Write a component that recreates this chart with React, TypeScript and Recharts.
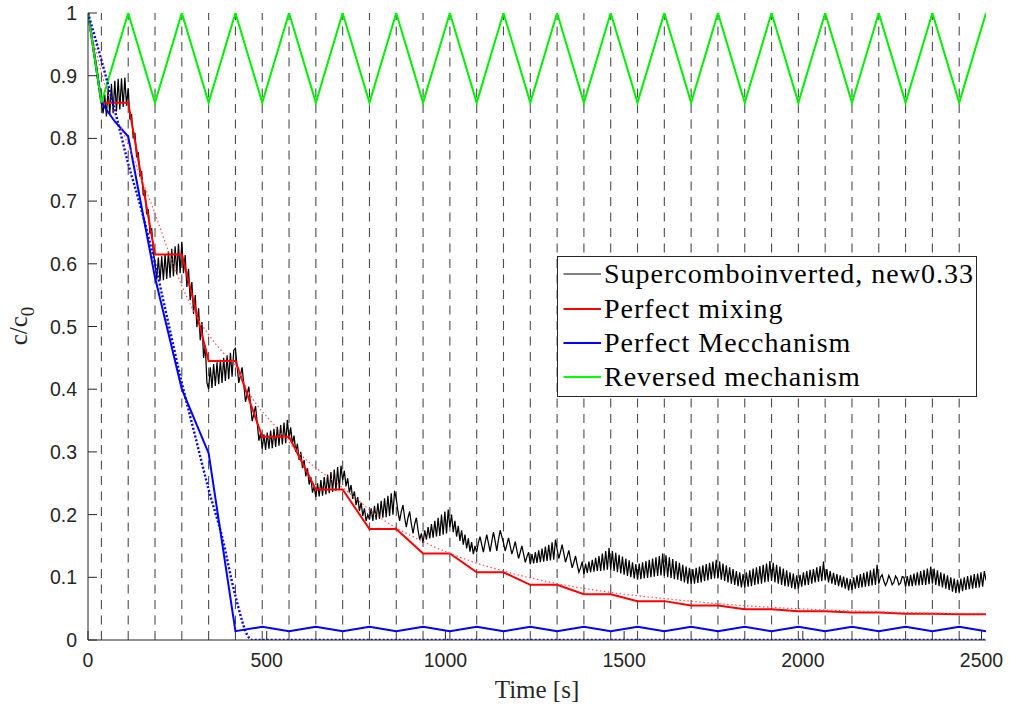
import React from 'react';
import { LineChart, Line, XAxis, YAxis, ReferenceLine, Legend } from 'recharts';

// Valve switching times (dashed vertical lines), seconds
const switchTimes = [37.5, 112.5, 187.5, 262.5, 337.5, 412.5, 487.5, 562.5, 637.5, 712.5, 787.5, 862.5, 937.5, 1012.5, 1087.5, 1162.5, 1237.5, 1312.5, 1387.5, 1462.5, 1537.5, 1612.5, 1687.5, 1762.5, 1837.5, 1912.5, 1987.5, 2062.5, 2137.5, 2212.5, 2287.5, 2362.5, 2437.5];

// Corner times of the piecewise-linear series
const cycleTimes = [0, 37.5, 112.5, 187.5, 262.5, 337.5, 412.5, 487.5, 562.5, 637.5, 712.5, 787.5, 862.5, 937.5, 1012.5, 1087.5, 1162.5, 1237.5, 1312.5, 1387.5, 1462.5, 1537.5, 1612.5, 1687.5, 1762.5, 1837.5, 1912.5, 1987.5, 2062.5, 2137.5, 2212.5, 2287.5, 2362.5, 2437.5, 2512.5];

// Reversed mechanism (green)
const greenValues = [1, .857, 1, .857, 1, .857, 1, .857, 1, .857, 1, .857, 1, .857, 1, .857, 1, .857, 1, .857, 1, .857, 1, .857, 1, .857, 1, .857, 1, .857, 1, .857, 1, .857, 1];

// Perfect mixing (red, solid)
const redValues = [1, .857, .857, .615, .615, .445, .445, .324, .324, .24, .24, .177, .177, .138, .138, .108, .108, .088, .088, .073, .073, .062, .062, .055, .055, .049, .049, .046, .046, .044, .044, .042, .042, .041, .041];

// Perfect mixing, smooth reference (red, dotted)
const redIdealTimes = [0, 37.5, 75, 112.5, 150, 187.5, 225, 262.5, 300, 337.5, 375, 412.5, 450, 525, 600, 712.5, 825, 937.5, 1050, 1162.5, 1312.5, 1462.5, 1612.5, 1762.5, 1912.5, 2062.5, 2212.5, 2362.5, 2512.5];
const redIdealValues = [1, .905, .84, .79, .735, .68, .62, .565, .52, .487, .46, .438, .395, .34, .293, .243, .192, .157, .13, .11, .09, .076, .066, .058, .052, .048, .045, .043, .042];

// Perfect Mecchanism (blue, solid)
const blueTimes = [0, 37.5, 75, 112.5, 187.5, 262.5, 337.5, 412.5, 487.5, 562.5, 637.5, 712.5, 787.5, 862.5, 937.5, 1012.5, 1087.5, 1162.5, 1237.5, 1312.5, 1387.5, 1462.5, 1537.5, 1612.5, 1687.5, 1762.5, 1837.5, 1912.5, 1987.5, 2062.5, 2137.5, 2212.5, 2287.5, 2362.5, 2437.5, 2512.5];
const blueValues = [1, .857, .827, .803, .578, .4, .298, .014, .021, .014, .021, .014, .021, .014, .021, .014, .021, .014, .021, .014, .021, .014, .021, .014, .021, .014, .021, .014, .021, .014, .021, .014, .021, .014, .021, .014];

// Perfect mechanism, smooth reference (blue, dotted)
const blueIdealTimes = [0, 37.5, 75, 112.5, 150, 187.5, 225, 262.5, 300, 337.5, 375, 412.5, 450, 460, 2512.5];
const blueIdealValues = [1, .925, .845, .76, .685, .6, .505, .41, .325, .24, .165, .07, .004, 0, 0];

// Supercomboinverted, new0.33 (black), sampled every blackStep seconds
const blackStep = 4.6875;
const blackValues = [
  1, .985, .968, .952, .935, .918, .9, .88, .857,
  .84, .87, .835, .88, .838, .887, .84, .892, .843, .895, .846, .896, .85, .897, .852,
  .88, .83, .839, .8, .809, .77, .778, .739, .748, .709, .718, .679, .687, .648, .657, .618,
  .6, .575, .61, .573, .612, .574, .615, .576, .62, .578, .624, .58, .628, .583, .632, .585,
  .635, .585, .614, .563, .592, .542, .571, .52, .55, .499, .529, .478, .507, .45, .47, .41,
  .4, .435, .402, .44, .405, .443, .408, .447, .41, .45, .413, .454, .416, .458, .42, .462,
  .465, .437, .41, .422, .435, .407, .38, .392, .404, .376, .349, .361, .373, .346, .318, .33,
  .305, .328, .303, .331, .305, .334, .306, .337, .308, .34, .31, .343, .312, .347, .314, .351,
  .32, .339, .313, .326, .3, .313, .287, .3, .274, .287, .261, .274, .248, .26, .235, .245,
  .228, .25, .229, .255, .23, .26, .232, .264, .234, .268, .236, .272, .238, .276, .24, .278,
  .255, .27, .245, .258, .235, .247, .225, .237, .215, .228, .206, .219, .198, .21, .19, .2,
  .192, .21, .19, .214, .192, .218, .193, .222, .195, .226, .196, .23, .198, .234, .2, .238,
  .225, .205, .19, .205, .215, .195, .18, .195, .205, .185, .17, .185, .195, .175, .16, .17,
  .155, .175, .16, .18, .162, .185, .163, .19, .165, .195, .166, .2, .168, .205, .17, .208,
  .18, .2, .172, .19, .165, .182, .158, .175, .152, .168, .146, .162, .141, .156, .137, .15,
  .14, .155, .165, .152, .14, .155, .168, .155, .141, .157, .172, .158, .142, .16, .175, .165,
  .155, .142, .152, .163, .15, .137, .146, .157, .143, .13, .14, .15, .137, .124, .133, .14,
  .121, .137, .122, .14, .123, .143, .124, .146, .125, .149, .126, .152, .127, .156, .128, .16,
  .145, .13, .14, .152, .138, .124, .133, .143, .128, .115, .124, .134, .12, .108, .115, .125,
  .105, .122, .107, .125, .108, .128, .109, .131, .11, .134, .11, .138, .111, .142, .112, .147,
  .112, .142, .11, .139, .108, .136, .106, .133, .104, .13, .102, .127, .1, .124, .098, .121,
  .096, .122, .097, .124, .098, .126, .099, .128, .1, .13, .101, .132, .102, .134, .103, .138,
  .102, .135, .1, .132, .099, .129, .097, .126, .096, .123, .094, .12, .092, .117, .09, .115,
  .089, .113, .09, .115, .091, .117, .092, .119, .094, .121, .095, .123, .097, .125, .098, .128,
  .098, .125, .096, .122, .094, .119, .092, .116, .09, .113, .088, .11, .086, .108, .084, .105,
  .084, .108, .085, .111, .086, .114, .088, .116, .089, .118, .09, .12, .092, .122, .093, .126,
  .094, .123, .092, .12, .09, .117, .088, .114, .086, .111, .085, .108, .083, .106, .081, .103,
  .082, .104, .085, .108, .087, .11, .088, .112, .09, .113, .092, .116, .093, .118, .094, .125,
  .095, .113, .092, .11, .09, .107, .088, .105, .086, .103, .084, .101, .082, .099, .079, .097,
  .08, .1, .082, .103, .083, .105, .084, .107, .085, .109, .086, .111, .087, .114, .088, .12,
  .09, .1, .104, .094, .087, .093, .103, .097, .088, .092, .102, .098, .088, .091, .101, .1,
  .085, .102, .086, .104, .086, .106, .087, .108, .087, .11, .088, .112, .088, .114, .089, .117,
  .09, .114, .088, .111, .086, .108, .084, .106, .082, .103, .08, .1, .077, .098, .075, .096,
  .076, .098, .078, .1, .08, .102, .081, .103, .082, .105, .083, .106, .084, .108, .085, .11, .095,
];

const xTicks = [0, 500, 1000, 1500, 2000, 2500];
const yTicks = [0, 0.1, 0.2, 0.3, 0.4, 0.5, 0.6, 0.7, 0.8, 0.9, 1];
const xDomain = [0, 2512.5];

const legendNames = ['Supercomboinverted, new0.33', 'Perfect mixing', 'Perfect Mecchanism', 'Reversed mechanism'];
const legendColors = ['#000000', '#ff0000', '#0000ff', '#00ff00'];

const toPoints = (ts: number[], vs: number[]) => ts.map((t, i) => ({ t, v: vs[i] }));
const greenData = toPoints(cycleTimes, greenValues);
const redData = toPoints(cycleTimes, redValues);
const redIdealData = toPoints(redIdealTimes, redIdealValues);
const blueData = toPoints(blueTimes, blueValues);
const blueIdealData = toPoints(blueIdealTimes, blueIdealValues);
const blackData = blackValues.map((v, i) => ({ t: i * blackStep, v }));

const AXIS = '#262626';
const TICK_LEN = 9;
const tickFont = { fontFamily: '"Liberation Sans", Arial, sans-serif', fontSize: 19.5, fill: AXIS };
const serif = '"Liberation Serif", "Times New Roman", serif';

const BottomTick = (props: any) => {
  const { x, y, payload } = props;
  const axisY = y - 13;
  return (
    <g>
      <line x1={x} x2={x} y1={axisY} y2={axisY - TICK_LEN} stroke={AXIS} strokeWidth={1} />
      <text x={x} y={y} dy="0.72em" textAnchor="middle" {...tickFont}>{payload.value}</text>
    </g>
  );
};

const LeftTick = (props: any) => {
  const { x, y, payload } = props;
  const axisX = x + 11;
  return (
    <g>
      <line x1={axisX} x2={axisX + TICK_LEN} y1={y} y2={y} stroke={AXIS} strokeWidth={1} />
      <text x={x} y={y} dy="0.36em" textAnchor="end" {...tickFont}>{String(payload.value)}</text>
    </g>
  );
};

const TopTick = (props: any) => {
  const { x, y } = props;
  return <line x1={x} x2={x} y1={y} y2={y + TICK_LEN} stroke={AXIS} strokeWidth={1} />;
};

const RightTick = (props: any) => {
  const { x, y } = props;
  return <line x1={x} x2={x - TICK_LEN} y1={y} y2={y} stroke={AXIS} strokeWidth={1} />;
};

const XLabel = (props: any) => {
  const vb = props.viewBox;
  return (
    <text x={vb.x + vb.width / 2} y={698} textAnchor="middle" fontFamily={serif} fontSize={25} fill={AXIS}>
      Time [s]
    </text>
  );
};

const YLabel = () => (
  <text x={27} y={326} transform="rotate(-90, 27, 326)" textAnchor="middle" fontFamily={serif} fontSize={25} fill={AXIS}>
    c/c<tspan fontSize={19} dy={7}>0</tspan>
  </text>
);

const renderLegend = () => (
  <div
    style={{
      width: 420,
      height: 141,
      boxSizing: 'border-box',
      border: `1px solid ${AXIS}`,
      background: '#ffffff',
      paddingTop: 0,
      fontFamily: serif,
      fontSize: 28,
      letterSpacing: '1px',
      color: '#000',
    }}
  >
    {legendNames.map((name, i) => (
      <div key={name} style={{ display: 'flex', alignItems: 'center', height: 34.4, whiteSpace: 'nowrap' }}>
        <svg width={46} height={6} style={{ display: 'block', flex: 'none' }}>
          <line x1={5.5} x2={43} y1={3} y2={3} stroke={legendColors[i]} strokeWidth={i === 0 ? 1.2 : 2} />
        </svg>
        <span style={{ lineHeight: '34px' }}>{name}</span>
      </div>
    ))}
  </div>
);

export default function App() {
  return (
    <div style={{ position: 'absolute', left: 0, top: 0, width: 1009, height: 713, background: '#fff' }}>
      <LineChart width={1009} height={713} margin={{ top: 13, right: 23, bottom: 33, left: 28 }}>
        <XAxis
          xAxisId={0}
          dataKey="t"
          type="number"
          domain={xDomain}
          ticks={xTicks}
          allowDataOverflow
          height={40}
          tickSize={0}
          tickMargin={13}
          tickLine={false}
          axisLine={{ stroke: AXIS, strokeWidth: 1 }}
          tick={<BottomTick />}
          label={<XLabel />}
        />
        <XAxis
          xAxisId="top"
          orientation="top"
          dataKey="t"
          type="number"
          domain={xDomain}
          ticks={xTicks}
          allowDataOverflow
          height={0}
          tickSize={0}
          tickMargin={0}
          tickLine={false}
          axisLine={{ stroke: AXIS, strokeWidth: 1 }}
          tick={<TopTick />}
        />
        <YAxis
          yAxisId={0}
          type="number"
          domain={[0, 1]}
          ticks={yTicks}
          allowDataOverflow
          width={60}
          tickSize={0}
          tickMargin={11}
          tickLine={false}
          axisLine={{ stroke: AXIS, strokeWidth: 1 }}
          tick={<LeftTick />}
          label={<YLabel />}
        />
        <YAxis
          yAxisId="right"
          orientation="right"
          type="number"
          domain={[0, 1]}
          ticks={yTicks}
          allowDataOverflow
          width={0}
          tickSize={0}
          tickMargin={0}
          tickLine={false}
          axisLine={{ stroke: AXIS, strokeWidth: 1 }}
          tick={<RightTick />}
        />
        {switchTimes.map((t) => (
          <ReferenceLine key={t} x={t} xAxisId={0} yAxisId={0} stroke="#4d4d4d" strokeWidth={1.1} strokeDasharray="9 6.5" />
        ))}
        <Line data={blackData} dataKey="v" xAxisId={0} yAxisId={0} type="linear" stroke="#000000" strokeWidth={1.25} dot={false} activeDot={false} isAnimationActive={false} name={legendNames[0]} />
        <Line data={redData} dataKey="v" xAxisId={0} yAxisId={0} type="linear" stroke="#ff0000" strokeWidth={2} dot={false} activeDot={false} isAnimationActive={false} name={legendNames[1]} />
        <Line data={blueData} dataKey="v" xAxisId={0} yAxisId={0} type="linear" stroke="#0000ff" strokeWidth={2} dot={false} activeDot={false} isAnimationActive={false} name={legendNames[2]} />
        <Line data={greenData} dataKey="v" xAxisId={0} yAxisId={0} type="linear" stroke="#00f000" strokeWidth={2} dot={false} activeDot={false} isAnimationActive={false} name={legendNames[3]} />
        <Line data={redIdealData} dataKey="v" xAxisId={0} yAxisId={0} type="monotone" stroke="#ff5050" strokeWidth={1.2} strokeDasharray="1.5 2.5" dot={false} activeDot={false} isAnimationActive={false} legendType="none" name="mixing-ideal" />
        <Line data={blueIdealData} dataKey="v" xAxisId={0} yAxisId={0} type="monotone" stroke="#0000ff" strokeWidth={2.4} strokeDasharray="2 2" dot={false} activeDot={false} isAnimationActive={false} legendType="none" name="mechanism-ideal" />
        <Legend
          layout="horizontal"
          verticalAlign="middle"
          align="center"
          content={renderLegend}
          wrapperStyle={{ position: 'absolute', left: 557, top: 256, width: 420, height: 141 }}
        />
      </LineChart>
    </div>
  );
}
